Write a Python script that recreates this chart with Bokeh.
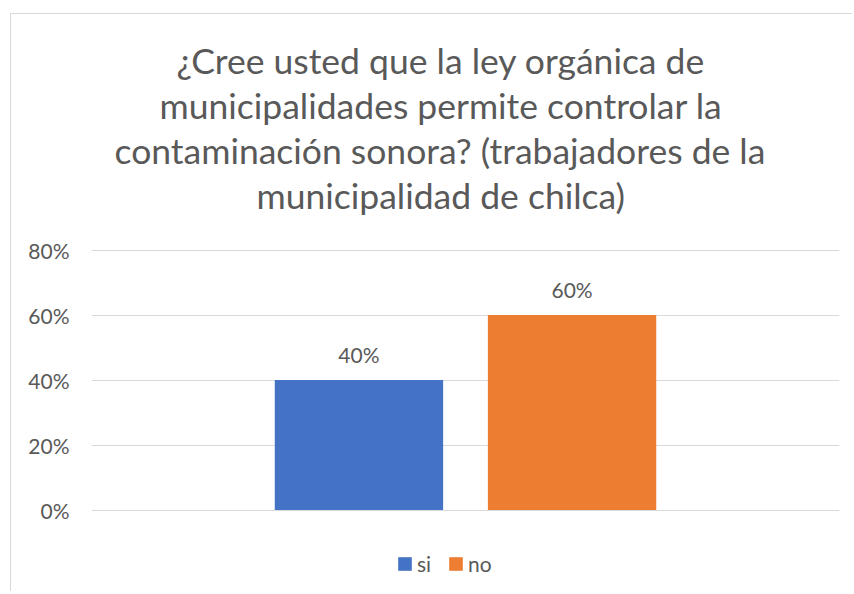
from bokeh.plotting import figure
from bokeh.models import (FactorRange, Range1d, ColumnDataSource, Title, Legend, LegendItem,
                          LabelSet, FixedTicker, NumeralTickFormatter)
from bokeh.core.properties import value
from bokeh.embed import file_html
from bokeh.resources import INLINE

title_lines = [
    "¿Cree usted que la ley orgánica de",
    "municipalidades permite controlar la",
    "contaminación sonora? (trabajadores de la",
    "municipalidad de chilca)",
]
categories = ["si", "no"]
values = [0.40, 0.60]
value_labels = ["40%", "60%"]
colors = ["#4472C4", "#ED7D31"]
y_ticks = [0, 0.2, 0.4, 0.6, 0.8]

TEXT = "#595959"
FONT = "Lato"
# left offsets of each (visually centred) title line, px from the plot frame's left edge
title_offsets = [85, 68, 23, 165]

src = ColumnDataSource(dict(cat=categories, val=values, lab=value_labels, color=colors))

p = figure(width=842, height=578,
           x_range=FactorRange(factors=categories, range_padding=0.755, range_padding_units="absolute"),
           y_range=Range1d(-0.2538, 0.9031),
           output_backend="svg", toolbar_location=None,
           min_border_left=80, min_border_right=14, min_border_top=202, min_border_bottom=0)
p.styles = {"border-top": "1px solid #D9D9D9", "border-left": "1px solid #D9D9D9",
            "margin-top": "13px", "margin-left": "10px"}
p.outline_line_color = None
p.background_fill_color = "white"
p.border_fill_color = "white"

r = p.vbar(x="cat", top="val", width=0.79, fill_color="color", line_color=None, source=src)

labels = LabelSet(x="cat", y="val", text="lab", source=src, y_offset=17,
                  text_align="center", text_baseline="alphabetic",
                  text_font_size="21px", text_color=TEXT, text_font=value(FONT))
p.add_layout(labels)

p.xaxis.visible = False
p.xgrid.grid_line_color = None
p.ygrid.grid_line_color = "#D9D9D9"
p.ygrid.grid_line_width = 1
p.yaxis.ticker = FixedTicker(ticks=y_ticks)
p.ygrid.ticker = FixedTicker(ticks=y_ticks)
p.yaxis.formatter = NumeralTickFormatter(format="0%")
p.yaxis.axis_line_color = None
p.yaxis.major_tick_line_color = None
p.yaxis.major_tick_out = 0
p.yaxis.major_tick_in = 0
p.yaxis.minor_tick_line_color = None
p.yaxis.major_label_standoff = 22
p.yaxis.major_label_text_font_size = "21px"
p.yaxis.major_label_text_color = TEXT
p.yaxis.major_label_text_font = FONT

for line, off in reversed(list(zip(title_lines, title_offsets))):
    p.add_layout(Title(text=line, align="left", offset=off, text_font_size="35.5px", text_font=FONT,
                       text_font_style="normal", text_color=TEXT, standoff=0), "above")

legend = Legend(items=[LegendItem(label="si", renderers=[r], index=0),
                       LegendItem(label="no", renderers=[r], index=1)],
                orientation="horizontal", location=(305, 16),
                glyph_width=17, glyph_height=17, label_text_font_size="21px",
                label_text_color=TEXT, label_text_font=FONT, label_standoff=4,
                spacing=10, border_line_color=None, background_fill_alpha=0,
                padding=0, margin=0)
p.add_layout(legend, "center")

open("out.html", "w").write(file_html(p, INLINE))
